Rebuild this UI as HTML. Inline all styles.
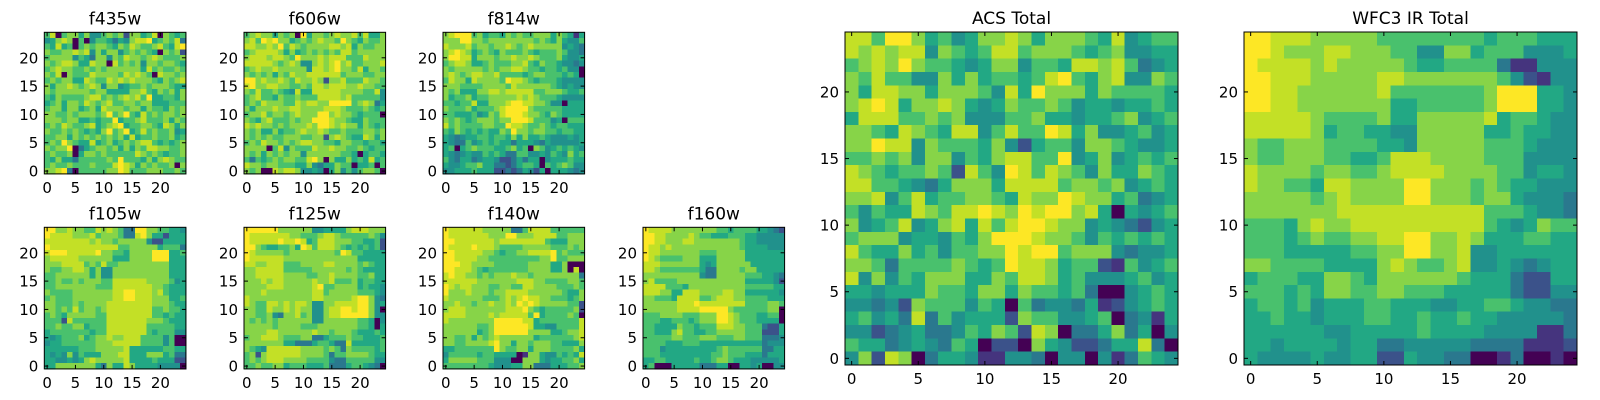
<!DOCTYPE html>
<html><head><meta charset="utf-8"><style>
body{margin:0;background:#fff;}
svg{display:block;font-family:"DejaVu Sans","Liberation Sans",sans-serif;}
</style></head><body>
<svg id="fig" width="1600" height="400" viewBox="0 0 1600 400" xmlns="http://www.w3.org/2000/svg"></svg>
<script>
// Each panel: 25 rows (top row = y 24 ... bottom row = y 0), digits 0-9 = relative intensity
const titles = ["f435w","f606w","f814w","f105w","f125w","f140w","f160w","ACS Total","WFC3 IR Total"];
const f435w = ["6806775744676727756807656","4578706046653547889567683","6585606767765768766786589","7667787847577467676507672","6777746537747687767876667","7678875587708676747767765","6787766767677777758676676","7680766687777687876087767","6767755876687878777657678","7577876787477456676777655","7677777767755557786576757","6576666788676787869556657","5675776876786677677555666","6775775675877767757665767","7766767776796796586767767","7776775565669566786667576","6768766785678956677658757","7667676565796795686766745","6677576767676758566766756","6769765585675676788656567","7677903567767575768877667","6766705776766666876765667","6575536666676966657578766","6766766676668987576766707","7789306666677986667776676"];
const f606w = ["6787757670957767877868557","7869897756767877697657667","8877879687677778878576677","6788887575676767688677777","7888788769777878886668777","8888876787447878978667778","6787787777748878977685776","7676757687788888867776677","9978778768778727786668776","8977887766768878887787766","7686676548558888877776684","6786657667666888878666664","6768777668788779999678735","7577787788777788876667656","6778677678777997877656660","7657866676779998776557666","8787767677787998787757656","7675575667877876676667767","7676766777667727876558757","6768776767887766577665665","7777068476668778776676566","7675767677477777766505665","6365676776689707557565856","8776776665574355766055606","7670087887445405746467760"];
const f814w = ["7899967566576766777576515","7779977677777777676575446","8777867767787678777774543","7898756765766676566676443","7998857776778778766675445","6788755676667786576654434","7677777676778876656656440","7876788778666656776665650","6877587777698876566654444","7776666777768777777654544","7675557788788888667776556","7566756677777878766654444","6656685577789988776440555","7666756667899997666665555","6655564576899987765765555","7676567776779998666450666","8676666776698876676566555","6576565655769776776656655","5434556656657575565444545","5433645656553555435444445","5605676665567560764565654","5434544656533664454654756","6435534554223535504555655","5445667553323566506567644","4455565552232354250555434"];
const f105w = ["9977877668787633997766554","9888877786777633897552555","8888888878776777774225555","9888888888888667777756663","8999888889776657777999556","7888887777775557777999555","7778888676866777777777555","7667788757447777777777555","6677777757447777777777555","6676676777668888887777645","6677777776668888888776555","7666677777778899888786555","6766677777778899888777556","7766676777788888888777655","7767686776788888888667665","6765777776688888888665655","6662866666688888887776555","6676677566688888886666655","5666666656688888886566644","5456667567787788866664600","4556666667778888866664600","5555556667777785555556655","5454746555777885557775633","5544545787777785555655522","5577777775375587555544440"];
const f125w = ["9999997777774455557888777","9888888877666788766666764","9888889889856888777665562","9976556675986888765656562","9877777677777777698665555","9888888777777777777755555","8877888666777788777767655","7788888666667777776765555","7788888777766778777766755","7778788777778778666756655","7777888777778966777756554","7778777777778867777766654","8777777777778877777899743","8766887878874477888899745","7766877878774478899899740","7766743778674478899999744","7676767777774477777766504","7777767777666777777766505","7777887777778776777655565","6778887666773356667665556","7777777553335665338555556","7654888888777767637666656","6727888888777763667777655","6767888777766664336666644","6676677566655563335665430"];
const f140w = ["9888888777773368888666666","9888888877799777888866777","9988888887888888886555777","9888898887666677777666767","9988888776566778888967666","9988887766666666677966777","9998877776666667777557000","9988876566666667777557080","8988776767778776777777773","8888887777777888776666776","9878877766776688777766676","9777877767788887777776557","8777777666787898877666567","7787767787787989877777662","7888777777788897656666672","8888777787888886956666760","8777777779999988566666668","7777776679999998554466668","7777775679999997777556778","7766757678777777566666678","7766777789775776777665557","5566666669766775777666675","4666665665555017754465658","5777776664440077754556675","6666666654445577333555667"];
const f160w = ["9888877777777665666655432","9988777787665556665544444","9988777887777777765544444","9887877777777777765555444","9887777777666777775555555","9876666777555777775555555","8887777777545777777555555","8876666666533777767755555","7777777777433777776665543","7866667777777777775555542","8888666577777777776666655","8887755888777788775555554","7766658888667888776666555","7777778889888888886666776","7777778888999997666666770","6667777666777998766655660","6665566656777998766655550","6655557665666888776663225","6655578665566777776662225","6666677666777666776663334","6666555666555555555553444","6664555555555676666663355","6665555555556676665553555","5566555556556776555444445","5600055555333550055450044"];
const acsTotal = ["8869975645778757776584566","8787884765688677765674455","6787976654577466588786345","7686644757566568965784476","7588775777648597775766665","7898577875457667645545565","5888667674446675545567456","7765876588468669857445645","7798847666574256647765445","6676747746578866945745656","8765667628649868764755765","8866543577758888677674565","7784685667765877987756345","6465587688987989978505456","7456845785868998774543245","6777455465799987764656565","8655756466779899677743445","7763666676569887566216456","8474657775576887564445645","5545557665775766563004565","4434276664650634435124565","5645383645552766445603415","4423453346576287033573504","6553454365022075422355830","4728703554114430440413654"];
const wfc3Total = ["9988877777666666665666555","9987778877766447756664445","9888878777776556666311444","9988877777887777777642144","9988777777866666667999554","9988777777755666667999554","8888876666755777778566544","8888875665544777775565544","7667776666554777776665444","7667776655688877776664444","8777767766788887777664554","8776658877779977767655444","7777767877779977767754443","7777777888888888886665443","6665787788888888886545766","6665676677889977875556655","6665555566779977844555555","7766665555787667844543455","5666557765777777655532255","6665657766776665555532244","5665645556655544556654433","5565545556655655655444443","5555554455555655554444113","5545555455334444433331112","5444454455225443300130010"];
const panelData = [f435w,f606w,f814w,f105w,f125w,f140w,f160w,acsTotal,wfc3Total];
const xTicks = [0,5,10,15,20];
const yTicksSmall = [0,5,10,15,20];
const yTicksBig = [0,5,10,15,20];

const layout = [
 {x:44.3,y:32.3,s:141.6},{x:244,y:32.3,s:141.6},{x:443,y:32.3,s:141.6},
 {x:44.3,y:227.3,s:141.6},{x:244,y:227.3,s:141.6},{x:443,y:227.3,s:141.6},{x:643,y:227.3,s:141.6},
 {x:845,y:32,s:333},{x:1244,y:32,s:333}
];
const stops=["#440154","#482475","#414487","#355f8d","#2a788e","#21918c","#22a884","#44bf70","#7ad151","#bddf26","#fde725"];
const digitVal=[0,0.15,0.25,0.4,0.5,0.6,0.71,0.82,0.91,1.0];
function hex2(c){return [parseInt(c.slice(1,3),16),parseInt(c.slice(3,5),16),parseInt(c.slice(5,7),16)];}
function viridis(v){const p=v*10,i=Math.min(9,Math.floor(p)),f=p-i;const a=hex2(stops[i]),b=hex2(stops[i+1]);
 return "rgb("+a.map((q,k)=>Math.round(q+(b[k]-q)*f)).join(",")+")";}
const NS="http://www.w3.org/2000/svg";
const svg=document.getElementById('fig');
function mk(t,attrs,parent){const e=document.createElementNS(NS,t);for(const k in attrs)e.setAttribute(k,attrs[k]);parent.appendChild(e);return e;}

panelData.forEach((rows,pi)=>{
 const L=layout[pi];const n=25;const c=L.s/n;
 const g=mk('g',{},svg);
 
 
 const xs=v=>L.x+(v+0.5)*c; const ys=v=>L.y+(n-0.5-v)*c;
 rows.forEach((row,ri)=>{
  const yv=n-1-ri;
  for(let j=0;j<n;j++){
   const r=mk('rect',{x:(xs(j)-c/2).toFixed(2),y:(ys(yv)-c/2).toFixed(2),width:(c+0.4).toFixed(2),height:(c+0.4).toFixed(2),fill:viridis(digitVal[+row[j]]),'shape-rendering':'crispEdges'},g);
   
   
  }
 });
 const fr=mk('rect',{x:L.x,y:L.y,width:L.s,height:L.s,fill:'none',stroke:'#000','stroke-width':1},g);
 
 
 const fs=15;
 xTicks.forEach(t=>{
  const X=xs(t);
  mk('line',{x1:X,x2:X,y1:L.y+L.s,y2:L.y+L.s-4,stroke:'#000'},g);
  mk('line',{x1:X,x2:X,y1:L.y,y2:L.y+4,stroke:'#000'},g);
  const tx=mk('text',{x:X,y:L.y+L.s+19,'font-size':fs,'text-anchor':'middle'},g);
  tx.textContent=t;
  
  
 });
 (pi>=7?yTicksBig:yTicksSmall).forEach(t=>{
  const Y=ys(t);
  mk('line',{x1:L.x,x2:L.x+4,y1:Y,y2:Y,stroke:'#000'},g);
  mk('line',{x1:L.x+L.s,x2:L.x+L.s-4,y1:Y,y2:Y,stroke:'#000'},g);
  const ty=mk('text',{x:L.x-6,y:Y+5.5,'font-size':fs,'text-anchor':'end'},g);
  ty.textContent=t;
  
  
 });
 const ti=mk('text',{x:L.x+L.s/2,y:L.y-8,'font-size':17,'text-anchor':'middle'},g);
 ti.textContent=titles[pi];
 
 
});
</script>
</body></html>
